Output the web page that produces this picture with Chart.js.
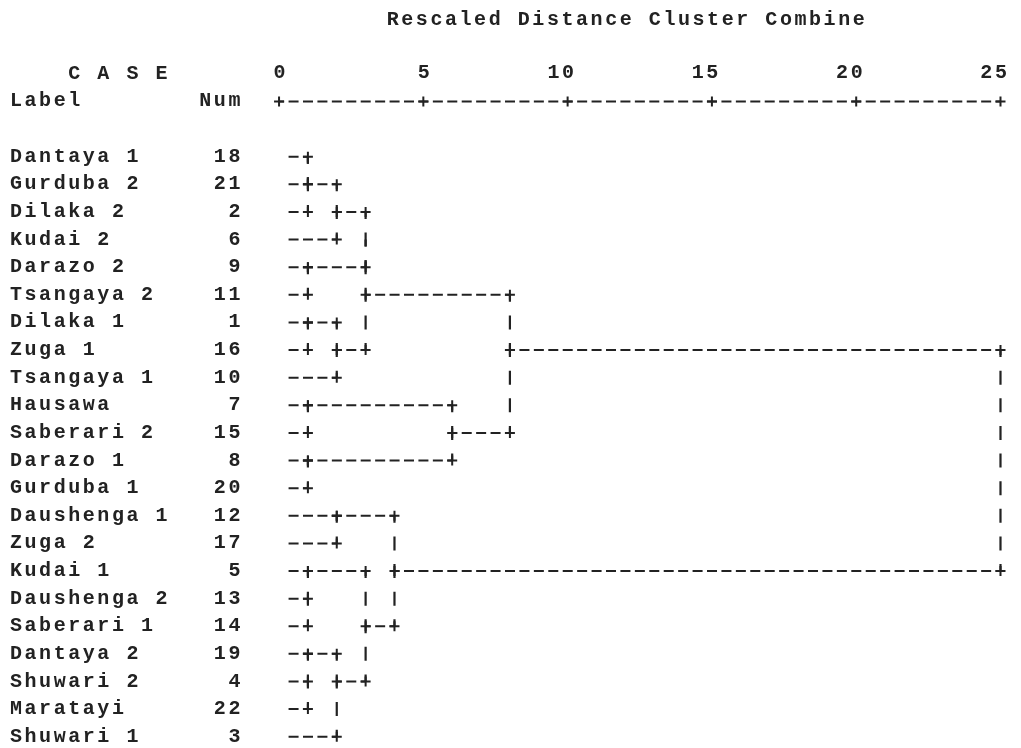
<!DOCTYPE html>
<html>
<head>
<meta charset="utf-8">
<title>Rescaled Distance Cluster Combine</title>
<script src="https://cdn.jsdelivr.net/npm/chart.js@4.4.1/dist/chart.umd.min.js"></script>
<style>
  html, body { margin: 0; padding: 0; background: #fff; }
  #wrap { width: 1021px; height: 748px; }
</style>
</head>
<body>
<div id="wrap"><canvas id="dendro"></canvas></div>
<script>
// cases, in the order the dendrogram lists them
const caseLabels = ['Dantaya 1', 'Gurduba 2', 'Dilaka 2', 'Kudai 2', 'Darazo 2', 'Tsangaya 2',
  'Dilaka 1', 'Zuga 1', 'Tsangaya 1', 'Hausawa', 'Saberari 2', 'Darazo 1', 'Gurduba 1',
  'Daushenga 1', 'Zuga 2', 'Kudai 1', 'Daushenga 2', 'Saberari 1', 'Dantaya 2', 'Shuwari 2',
  'Maratayi', 'Shuwari 1'];
const caseNums = [18, 21, 2, 6, 9, 11, 1, 16, 10, 7, 15, 8, 20, 12, 17, 5, 13, 14, 19, 4, 22, 3];

// agglomeration schedule: clusters holding these two cases combine at this rescaled distance
const joinCase1 = [18, 2, 9, 1, 7, 8, 13, 5, 4, 19, 6, 10, 12, 3, 18, 18, 5, 12, 7, 18, 18];
const joinCase2 = [21, 18, 11, 16, 15, 20, 14, 13, 22, 4, 18, 1, 17, 19, 9, 1, 19, 5, 8, 7, 12];
const joinDistance = [1, 1, 1, 1, 1, 1, 1, 1, 1, 1, 2, 2, 2, 2, 3, 3, 3, 4, 6, 8, 25];

const distanceTicks = [0, 5, 10, 15, 20, 25];

// look of the old text output
const INK = '#222';
const FONT_FAMILY = '"Liberation Mono", "DejaVu Sans Mono", monospace';
const FONT_SIZE = 20;
const CELL = 14.56;          // width of one character cell
const LEAF_START = 0.33;     // leaf lines start at the first cell after 0
const RULER_ROW = -2;
const CASE_ROW = -3;

const monoFont = {family: FONT_FAMILY, size: FONT_SIZE, weight: 'bold', lineHeight: 1};

// walk the schedule and turn it into line pieces
const owner = {};
caseNums.forEach((n, i) => { owner[n] = {row: i, dist: null, leaf: true, members: [n]}; });

const hLines = [], vLines = [], joints = [];
joinCase1.forEach((a, k) => {
  const ca = owner[a], cb = owner[joinCase2[k]], d = joinDistance[k];
  [ca, cb].forEach(c => {
    const from = c.leaf ? LEAF_START : c.dist;
    if (d > from) {
      hLines.push({x: from, y: c.row}, {x: d, y: c.row}, {x: null, y: null});
      joints.push({x: d, y: c.row});
      if (!c.leaf) joints.push({x: from, y: c.row});
    }
  });
  vLines.push({x: d, y: Math.min(ca.row, cb.row)}, {x: d, y: Math.max(ca.row, cb.row)}, {x: null, y: null});
  const node = {row: Math.floor((ca.row + cb.row) / 2), dist: d, leaf: false, members: ca.members.concat(cb.members)};
  node.members.forEach(m => { owner[m] = node; });
});

const ruler = distanceTicks.map(v => ({x: v, y: RULER_ROW}));

// dashes that sit in the character cells like '-' and '|'
function cellWidth(chart) {
  const x = chart.scales.x;
  return (x.getPixelForValue(1) - x.getPixelForValue(0)) / 2;
}
function rowHeight(chart) {
  const y = chart.scales.y;
  return Math.abs(y.getPixelForValue(1) - y.getPixelForValue(0));
}
const hSegment = {
  borderDash: ctx => [10, cellWidth(ctx.chart) - 10],
  borderDashOffset: ctx => {
    const cw = cellWidth(ctx.chart);
    const s = ctx.p0.x - ctx.chart.scales.x.getPixelForValue(LEAF_START);
    return ((s % cw) + cw) % cw;
  }
};
const vSegment = {
  borderDash: ctx => [14, rowHeight(ctx.chart) - 14],
  borderDashOffset: 7
};

const textCells = {
  id: 'textCells',
  beforeDraw(chart) {
    chart.ctx.letterSpacing = (CELL - 0.6 * FONT_SIZE) + 'px';
  },
  afterDraw(chart) {
    const ctx = chart.ctx;
    ctx.save();
    ctx.font = 'bold ' + FONT_SIZE + 'px ' + FONT_FAMILY;
    ctx.fillStyle = INK;
    ctx.textAlign = 'left';
    ctx.textBaseline = 'middle';
    ctx.fillText('C A S E', chart.scales.y.left + 4 * CELL, chart.scales.y.getPixelForValue(CASE_ROW));
    ctx.restore();
  }
};

new Chart(document.getElementById('dendro'), {
  type: 'line',
  data: {
    datasets: [
      {
        label: 'ruler', data: ruler,
        borderColor: INK, borderWidth: 2, segment: hSegment,
        pointStyle: 'cross', pointRadius: 5, pointBorderWidth: 2, pointBorderColor: INK,
        clip: false
      },
      {
        label: 'horizontal', data: hLines,
        borderColor: INK, borderWidth: 2, segment: hSegment,
        pointRadius: 0, clip: false
      },
      {
        label: 'vertical', data: vLines,
        borderColor: INK, borderWidth: 2.2, segment: vSegment,
        pointRadius: 0, clip: false
      },
      {
        label: 'joints', data: joints, showLine: false,
        pointStyle: 'cross', pointRadius: 5, pointBorderWidth: 2, pointBorderColor: INK,
        clip: false
      }
    ]
  },
  options: {
    responsive: true,
    maintainAspectRatio: false,
    animation: false,
    events: [],
    layout: {padding: {left: 10, right: 0, top: 0, bottom: 10}},
    plugins: {
      legend: {display: false},
      tooltip: {enabled: false},
      title: {
        display: true,
        text: 'Rescaled Distance Cluster Combine',
        fullSize: false,
        color: INK,
        font: monoFont,
        padding: {top: 10, bottom: 0}
      }
    },
    scales: {
      x: {
        type: 'linear',
        position: 'top',
        min: -1.353,
        max: 25.468,
        grid: {display: false, drawTicks: false},
        border: {display: false},
        afterBuildTicks: s => { s.ticks = distanceTicks.map(v => ({value: v})); },
        afterFit: s => { s.height = 56; },
        ticks: {
          autoSkip: false, maxRotation: 0, minRotation: 0,
          align: 'end', labelOffset: 9, padding: 3,
          color: INK, font: monoFont,
          callback: v => String(v)
        }
      },
      y: {
        type: 'linear',
        reverse: true,
        min: -2.56,
        max: 21.046,
        grid: {display: false, drawTicks: false},
        border: {display: false},
        afterBuildTicks: s => {
          s.ticks = [RULER_ROW].concat(caseLabels.map((_, i) => i)).map(v => ({value: v}));
        },
        afterFit: s => { s.width = 230; },
        ticks: {
          autoSkip: false, crossAlign: 'far', padding: 0,
          color: INK, font: monoFont,
          callback: v => v === RULER_ROW
            ? 'Label'.padEnd(13) + 'Num'
            : caseLabels[v].padEnd(14) + String(caseNums[v]).padStart(2)
        }
      }
    }
  },
  plugins: [textCells]
});
</script>
</body>
</html>
